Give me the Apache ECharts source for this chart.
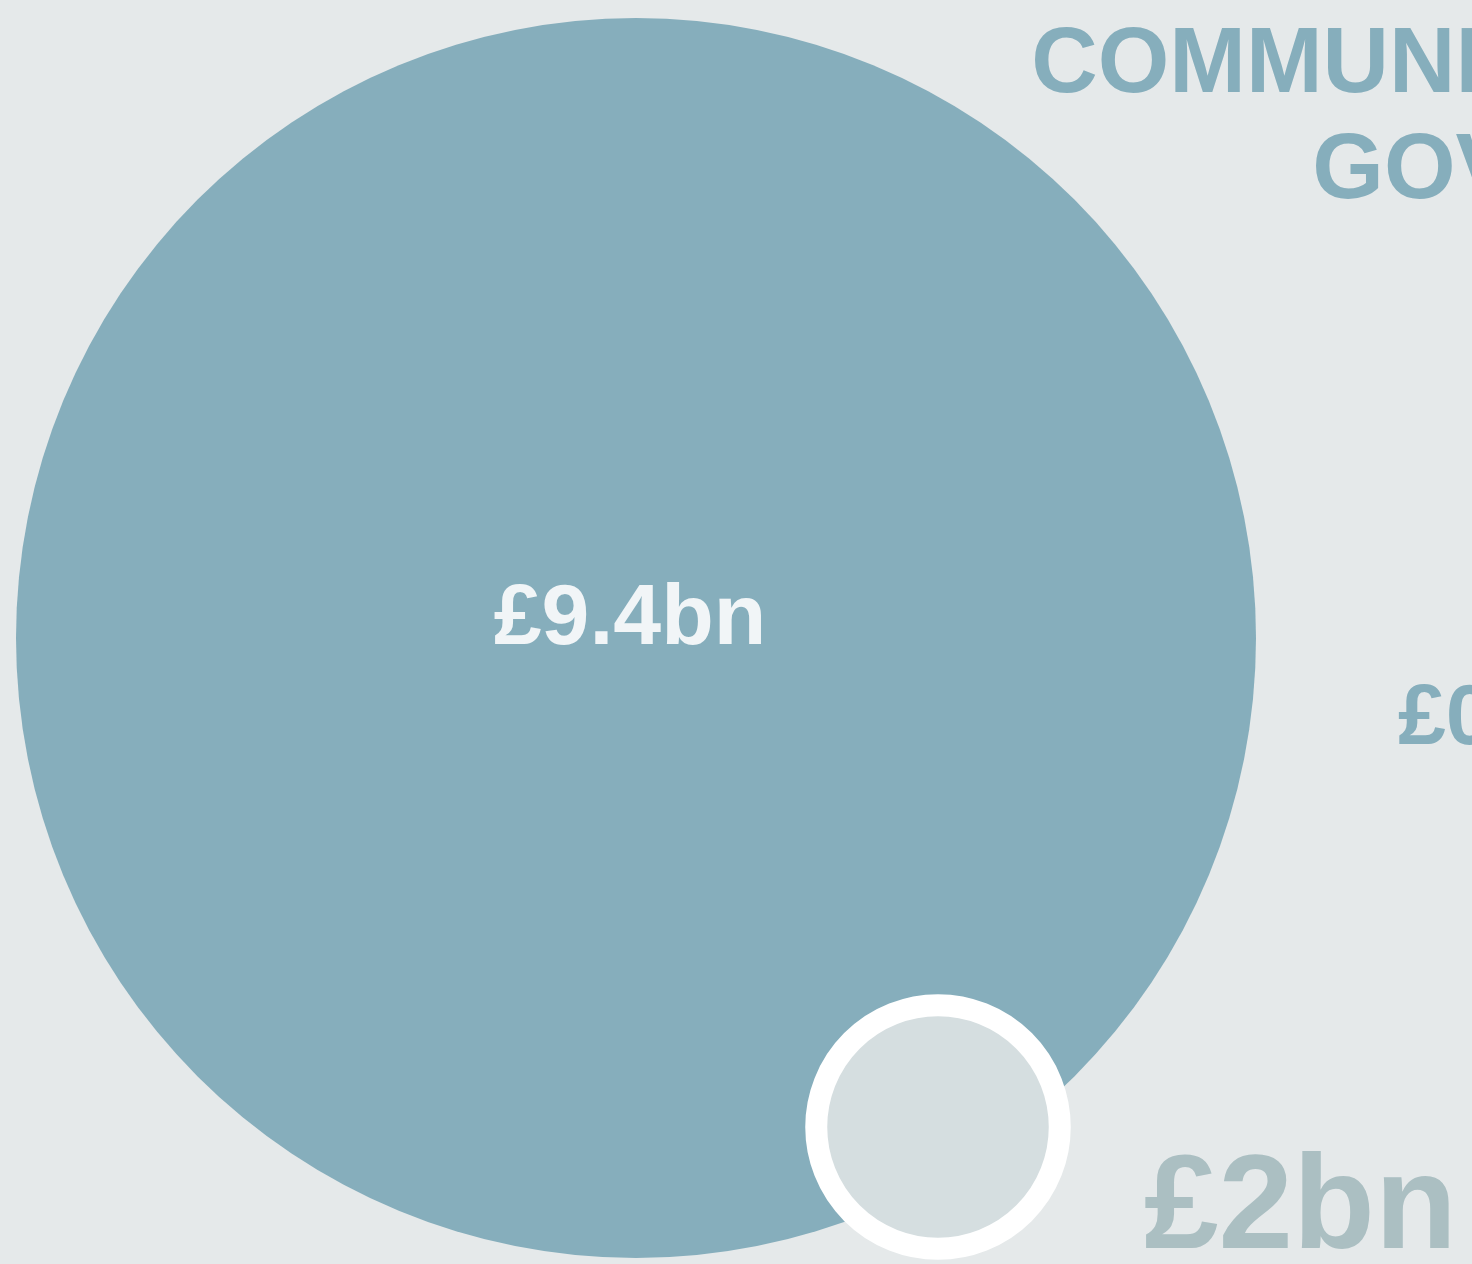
<!DOCTYPE html>
<html>
<head>
<meta charset="utf-8">
<script src="https://cdn.jsdelivr.net/npm/echarts@6/dist/echarts.min.js"></script>
<style>
html,body{margin:0;padding:0;background:#e5e9ea;}
#chart{width:1472px;height:1264px;}
</style>
</head>
<body>
<div id="chart"></div>
<script>
// ---- data ----
const bubbleNames = ['Communities and Local Government', 'Comparison'];
const bubbleValues = [9.4, 0.3];           // £bn
const bubbleLabels = ['£9.4bn', ''];
const titleLines = ['COMMUNITIES AND LOCAL', 'GOVERNMENT'];
const sideLabel = '£0.3bn';
const bottomLabel = '£2bn';

// ---- layout (not data) ----
const W = 1472, H = 1264;
const centres = [[636, 638], [938, 1127]];
const k = 620 / Math.sqrt(9.4);           // radius scale: r = k * sqrt(value)
const ringWidth = 22;
const fontFam = 'Liberation Sans, Arial, sans-serif';

const chart = echarts.init(document.getElementById('chart'), null, {renderer: 'canvas'});

const pts = bubbleValues.map((v, i) => {
  const r = k * Math.sqrt(v);
  const isRing = i === 1;
  return {
    name: bubbleNames[i],
    value: [centres[i][0], centres[i][1], v],
    symbolSize: isRing ? 2 * (r + ringWidth / 2) : 2 * r,
    itemStyle: isRing
      ? {color: '#d5dee0', borderColor: '#ffffff', borderWidth: ringWidth, opacity: 1}
      : {color: '#86aebc', opacity: 1},
    label: {
      show: !!bubbleLabels[i],
      formatter: bubbleLabels[i],
      position: 'inside',
      offset: [-6, -18],
      color: '#f1f5f7',
      fontSize: 86,
      fontWeight: 'bold',
      fontFamily: fontFam
    }
  };
});

function txt(text, x, y, align, fill, font) {
  return {
    type: 'text', x: x, y: y, silent: true,
    style: {text: text, textAlign: align, textVerticalAlign: 'top', fill: fill, font: font}
  };
}

chart.setOption({
  backgroundColor: '#e5e9ea',
  animation: false,
  grid: {left: 0, right: 0, top: 0, bottom: 0},
  xAxis: {type: 'value', min: 0, max: W, show: false},
  yAxis: {type: 'value', min: 0, max: H, inverse: true, show: false},
  series: [{
    type: 'scatter',
    symbol: 'circle',
    data: pts,
    emphasis: {disabled: true}
  }],
  graphic: [
    txt(titleLines[0], 1642, 21, 'center', '#86aebc', 'bold 92px ' + fontFam),
    txt(titleLines[1], 1642, 127, 'center', '#86aebc', 'bold 92px ' + fontFam),
    txt(sideLabel, 1398, 677, 'left', '#86aebc', 'bold 86px ' + fontFam),
    txt(bottomLabel, 1144, 1144, 'left', '#abbfc2', 'bold 134px ' + fontFam)
  ]
});
</script>
</body>
</html>
